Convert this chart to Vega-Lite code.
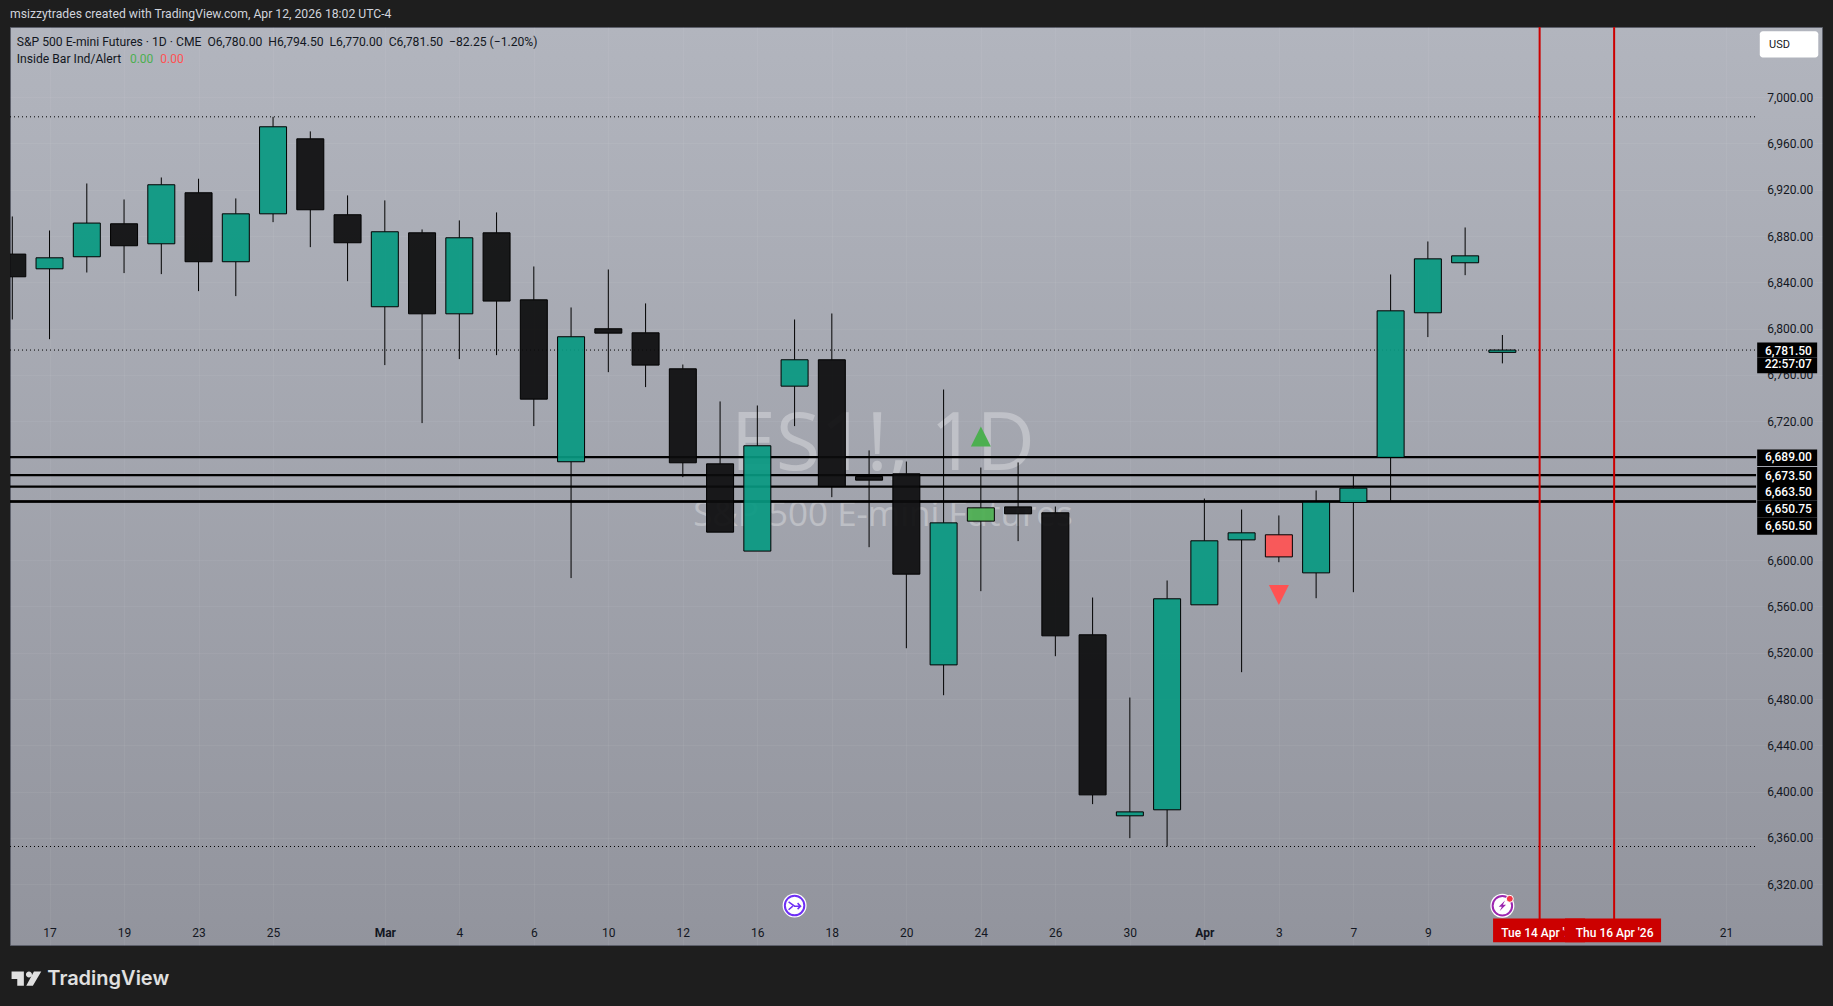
{
  "$schema": "https://vega.github.io/schema/vega-lite/v6.json",
  "width": 1812,
  "height": 918,
  "autosize": {"type": "none"},
  "padding": {"left": 10, "top": 27, "right": 11, "bottom": 61},
  "background": "#1e1e1e",
  "title": {
    "text": "msizzytrades created with TradingView.com, Apr 12, 2026 18:02 UTC-4",
    "anchor": "start",
    "frame": "group",
    "color": "#d1d4dc",
    "font": "Roboto",
    "fontSize": 12.2,
    "fontWeight": "normal",
    "offset": 6
  },
  "view": {
    "stroke": "#5d606b",
    "fill": {
      "gradient": "linear",
      "x1": 0, "y1": 0, "x2": 0, "y2": 1,
      "stops": [
        {"offset": 0, "color": "#b2b5be"},
        {"offset": 1, "color": "#92949d"}
      ]
    }
  },
  "config": {
    "font": "Roboto",
    "axis": {"title": null},
    "text": {"font": "Roboto", "fontSize": 12}
  },
  "datasets": {
    "candles": [
      {"bar": 0, "date": "2026-02-13", "tone": "down", "high": 6896.9, "top": 6864.4, "bottom": 6844.8, "low": 6807.9},
      {"bar": 1, "date": "2026-02-17", "tone": "up", "high": 6884.8, "top": 6861.2, "bottom": 6851.7, "low": 6790.9},
      {"bar": 2, "date": "2026-02-18", "tone": "up", "high": 6925.4, "top": 6891.2, "bottom": 6862.1, "low": 6848.5},
      {"bar": 3, "date": "2026-02-19", "tone": "down", "high": 6911.6, "top": 6890.6, "bottom": 6871.6, "low": 6848.0},
      {"bar": 4, "date": "2026-02-20", "tone": "up", "high": 6930.6, "top": 6924.3, "bottom": 6873.3, "low": 6847.1},
      {"bar": 5, "date": "2026-02-23", "tone": "down", "high": 6929.5, "top": 6917.4, "bottom": 6857.8, "low": 6832.4},
      {"bar": 6, "date": "2026-02-24", "tone": "up", "high": 6912.5, "top": 6899.2, "bottom": 6857.8, "low": 6828.1},
      {"bar": 7, "date": "2026-02-25", "tone": "up", "high": 6983.0, "top": 6974.4, "bottom": 6899.2, "low": 6892.0},
      {"bar": 8, "date": "2026-02-26", "tone": "down", "high": 6970.4, "top": 6964.0, "bottom": 6902.7, "low": 6870.4},
      {"bar": 9, "date": "2026-02-27", "tone": "down", "high": 6915.1, "top": 6898.4, "bottom": 6874.2, "low": 6841.0},
      {"bar": 10, "date": "2026-03-02", "tone": "up", "high": 6910.8, "top": 6883.7, "bottom": 6818.9, "low": 6768.5},
      {"bar": 11, "date": "2026-03-03", "tone": "down", "high": 6885.7, "top": 6882.8, "bottom": 6812.8, "low": 6718.4},
      {"bar": 12, "date": "2026-03-04", "tone": "up", "high": 6893.5, "top": 6878.5, "bottom": 6812.8, "low": 6773.7},
      {"bar": 13, "date": "2026-03-05", "tone": "down", "high": 6900.4, "top": 6882.8, "bottom": 6823.8, "low": 6777.1},
      {"bar": 14, "date": "2026-03-06", "tone": "down", "high": 6853.7, "top": 6824.9, "bottom": 6739.1, "low": 6715.8},
      {"bar": 15, "date": "2026-03-09", "tone": "up", "high": 6818.3, "top": 6793.0, "bottom": 6685.0, "low": 6584.5},
      {"bar": 16, "date": "2026-03-10", "tone": "down", "high": 6851.1, "top": 6799.9, "bottom": 6796.1, "low": 6762.4},
      {"bar": 17, "date": "2026-03-11", "tone": "down", "high": 6821.8, "top": 6796.4, "bottom": 6768.5, "low": 6749.5},
      {"bar": 18, "date": "2026-03-12", "tone": "down", "high": 6769.0, "top": 6765.3, "bottom": 6684.1, "low": 6671.7},
      {"bar": 19, "date": "2026-03-13", "tone": "down", "high": 6737.1, "top": 6683.2, "bottom": 6624.2, "low": 6624.2},
      {"bar": 20, "date": "2026-03-16", "tone": "up", "high": 6733.6, "top": 6698.8, "bottom": 6607.8, "low": 6607.8},
      {"bar": 21, "date": "2026-03-17", "tone": "up", "high": 6807.9, "top": 6773.1, "bottom": 6750.3, "low": 6715.8},
      {"bar": 22, "date": "2026-03-18", "tone": "down", "high": 6813.1, "top": 6773.1, "bottom": 6663.6, "low": 6654.4},
      {"bar": 23, "date": "2026-03-19", "tone": "down", "high": 6694.8, "top": 6672.3, "bottom": 6669.1, "low": 6611.2},
      {"bar": 24, "date": "2026-03-20", "tone": "down", "high": 6685.2, "top": 6674.6, "bottom": 6587.9, "low": 6523.9},
      {"bar": 25, "date": "2026-03-23", "tone": "up", "high": 6747.4, "top": 6632.2, "bottom": 6509.5, "low": 6483.3},
      {"bar": 26, "date": "2026-03-24", "tone": "insideUp", "high": 6680.0, "top": 6645.2, "bottom": 6633.7, "low": 6573.2},
      {"bar": 27, "date": "2026-03-25", "tone": "down", "high": 6684.4, "top": 6646.0, "bottom": 6640.0, "low": 6616.4},
      {"bar": 28, "date": "2026-03-26", "tone": "down", "high": 6646.3, "top": 6640.9, "bottom": 6534.6, "low": 6517.0},
      {"bar": 29, "date": "2026-03-27", "tone": "down", "high": 6567.7, "top": 6535.5, "bottom": 6397.2, "low": 6389.2},
      {"bar": 30, "date": "2026-03-30", "tone": "up", "high": 6481.3, "top": 6382.5, "bottom": 6379.1, "low": 6359.8},
      {"bar": 31, "date": "2026-03-31", "tone": "up", "high": 6582.4, "top": 6566.6, "bottom": 6384.3, "low": 6352.6},
      {"bar": 32, "date": "2026-04-01", "tone": "up", "high": 6653.2, "top": 6616.7, "bottom": 6561.4, "low": 6561.4},
      {"bar": 33, "date": "2026-04-02", "tone": "up", "high": 6643.7, "top": 6623.6, "bottom": 6617.5, "low": 6503.2},
      {"bar": 34, "date": "2026-04-03", "tone": "insideDown", "high": 6638.6, "top": 6621.9, "bottom": 6602.8, "low": 6598.2},
      {"bar": 35, "date": "2026-04-06", "tone": "up", "high": 6660.2, "top": 6650.1, "bottom": 6589.0, "low": 6567.1},
      {"bar": 36, "date": "2026-04-07", "tone": "up", "high": 6672.6, "top": 6662.2, "bottom": 6649.8, "low": 6572.3},
      {"bar": 37, "date": "2026-04-08", "tone": "up", "high": 6846.8, "top": 6815.4, "bottom": 6688.7, "low": 6651.5},
      {"bar": 38, "date": "2026-04-09", "tone": "up", "high": 6875.3, "top": 6860.3, "bottom": 6813.7, "low": 6792.7},
      {"bar": 39, "date": "2026-04-10", "tone": "up", "high": 6887.4, "top": 6862.9, "bottom": 6856.9, "low": 6846.2},
      {"bar": 40, "date": "2026-04-13", "tone": "up", "high": 6794.5, "top": 6781.5, "bottom": 6779.5, "low": 6770.0}
    ],
    "tags": [
      {"label": "6,689.00", "from": 6695.6, "to": 6681.4, "price": 6689.0},
      {"label": "6,673.50", "from": 6680.5, "to": 6665.8, "price": 6673.1},
      {"label": "6,663.50", "from": 6665.8, "to": 6651.5, "price": 6658.7},
      {"label": "6,650.75", "from": 6651.5, "to": 6636.9, "price": 6643.8},
      {"label": "6,650.50", "from": 6636.9, "to": 6621.9, "price": 6629.3},
      {"label": "6,781.50", "from": 6788.1, "to": 6775.0, "price": 6781.1},
      {"label": "22:57:07", "from": 6775.0, "to": 6761.5, "price": 6769.3}
    ]
  },
  "layer": [
    {
      "data": {"values": [
        {"label": "ES1!, 1D", "bar": 23.37, "price": 6699}
      ]},
      "mark": {"type": "text", "font": "Open Sans", "fontSize": 81, "baseline": "middle", "align": "center", "color": "#ffffff", "opacity": 0.3},
      "encoding": {
        "x": {
          "field": "bar",
          "type": "quantitative",
          "scale": {"domain": [-0.0616, 48.58], "nice": false, "zero": false, "padding": 0},
          "axis": {
            "orient": "bottom",
            "offset": -13,
            "title": null,
            "domain": false,
            "ticks": false,
            "grid": true,
            "gridColor": "#ffffff",
            "gridOpacity": 0.05,
            "labelColor": "#131722",
            "labelFontSize": 12,
            "labelFont": "Roboto",
            "labelPadding": 0,
            "labelBaseline": "middle",
            "labelOverlap": false,
            "labelFlush": false,
            "labelAngle": 0,
            "values": [1, 3, 5, 7, 10, 12, 14, 16, 18, 20, 22, 24, 26, 28, 30, 32, 34, 36, 38, 46],
            "labelExpr": "{'1':'17','3':'19','5':'23','7':'25','10':'Mar','12':'4','14':'6','16':'10','18':'12','20':'16','22':'18','24':'20','26':'24','28':'26','30':'30','32':'Apr','34':'3','36':'7','38':'9','46':'21'}[datum.value]",
            "labelFontWeight": {"expr": "datum.value == 10 || datum.value == 32 ? 'bold' : 'normal'"}
          }
        },
        "y": {
          "field": "price",
          "type": "quantitative",
          "scale": {"domain": [6267.5, 7060.6], "nice": false, "zero": false},
          "axis": {
            "orient": "right",
            "offset": -9.3,
            "title": null,
            "domain": false,
            "ticks": false,
            "grid": true,
            "gridColor": "#ffffff",
            "gridOpacity": 0.05,
            "labelColor": "#131722",
            "labelFontSize": 12,
            "labelFont": "Roboto",
            "labelPadding": 0,
            "labelAlign": "right",
            "labelOverlap": false,
            "labelFlush": false,
            "format": ",.2f",
            "values": [6320, 6360, 6400, 6440, 6480, 6520, 6560, 6600, 6720, 6760, 6800, 6840, 6880, 6920, 6960, 7000]
          }
        },
        "text": {"field": "label"}
      }
    },
    {
      "data": {"values": [
        {"label": "S&P 500 E-mini Futures", "bar": 23.37, "price": 6638.6}
      ]},
      "mark": {"type": "text", "font": "Open Sans", "fontSize": 35, "baseline": "middle", "align": "center", "color": "#ffffff", "opacity": 0.3},
      "encoding": {
        "x": {"field": "bar", "type": "quantitative"},
        "y": {"field": "price", "type": "quantitative"},
        "text": {"field": "label"}
      }
    },
    {
      "data": {"values": [
        {"price": 6983},
        {"price": 6781.5},
        {"price": 6352.6}
      ]},
      "mark": {"type": "rule", "color": "#000000", "strokeWidth": 1, "strokeDash": [1, 3]},
      "encoding": {
        "x": {"datum": -0.0616, "type": "quantitative"},
        "x2": {"datum": 46.81},
        "y": {"field": "price", "type": "quantitative"}
      }
    },
    {
      "data": {"values": [
        {"price": 6689},
        {"price": 6673.5},
        {"price": 6663.5},
        {"price": 6650.75},
        {"price": 6650.5}
      ]},
      "mark": {"type": "rule", "color": "#000000", "strokeWidth": 2.2},
      "encoding": {
        "x": {"datum": -0.0616, "type": "quantitative"},
        "x2": {"datum": 46.81},
        "y": {"field": "price", "type": "quantitative"}
      }
    },
    {
      "data": {"name": "candles"},
      "mark": {"type": "rule", "color": "#000000", "strokeWidth": 1},
      "encoding": {
        "x": {"field": "bar", "type": "quantitative"},
        "y": {"field": "high", "type": "quantitative"},
        "y2": {"field": "top"}
      }
    },
    {
      "data": {"name": "candles"},
      "mark": {"type": "rule", "color": "#000000", "strokeWidth": 1},
      "encoding": {
        "x": {"field": "bar", "type": "quantitative"},
        "y": {"field": "bottom", "type": "quantitative"},
        "y2": {"field": "low"}
      }
    },
    {
      "data": {"name": "candles"},
      "mark": {"type": "bar", "size": 27, "stroke": "#000000", "strokeWidth": 1, "fillOpacity": 0.92, "clip": true},
      "encoding": {
        "x": {"field": "bar", "type": "quantitative"},
        "y": {"field": "top", "type": "quantitative"},
        "y2": {"field": "bottom"},
        "color": {
          "field": "tone",
          "type": "nominal",
          "legend": null,
          "scale": {
            "domain": ["up", "down", "insideUp", "insideDown"],
            "range": ["#089981", "#0c0c0d", "#4caf50", "#ff5252"]
          }
        }
      }
    },
    {
      "data": {"values": [{"bar": 26, "price": 6706.8}]},
      "mark": {"type": "point", "shape": "M0 -1L1 1L-1 1Z", "size": 400, "filled": true, "color": "#4caf50", "opacity": 1},
      "encoding": {
        "x": {"field": "bar", "type": "quantitative"},
        "y": {"field": "price", "type": "quantitative"}
      }
    },
    {
      "data": {"values": [{"bar": 34, "price": 6569.9}]},
      "mark": {"type": "point", "shape": "M0 1L1 -1L-1 -1Z", "size": 400, "filled": true, "color": "#ff5252", "opacity": 1},
      "encoding": {
        "x": {"field": "bar", "type": "quantitative"},
        "y": {"field": "price", "type": "quantitative"}
      }
    },
    {
      "data": {"values": [{"bar": 41}, {"bar": 43}]},
      "mark": {"type": "rule", "color": "#cc0000", "strokeWidth": 2},
      "encoding": {
        "x": {"field": "bar", "type": "quantitative"},
        "y": {"datum": 7060.6, "type": "quantitative"},
        "y2": {"datum": 6285}
      }
    },
    {
      "data": {"name": "tags"},
      "mark": {"type": "rect", "color": "#000000"},
      "encoding": {
        "x": {"datum": 46.84, "type": "quantitative"},
        "x2": {"datum": 48.45},
        "y": {"field": "from", "type": "quantitative"},
        "y2": {"field": "to"}
      }
    },
    {
      "data": {"name": "tags"},
      "mark": {"type": "text", "color": "#ffffff", "align": "right", "baseline": "middle", "fontSize": 12, "fontWeight": 500},
      "encoding": {
        "x": {"datum": 48.31, "type": "quantitative"},
        "y": {"field": "price", "type": "quantitative"},
        "text": {"field": "label"}
      }
    },
    {
      "data": {"values": [{"from": 46.91, "to": 48.48, "price": 7057, "price2": 7034.3}]},
      "mark": {"type": "rect", "color": "#ffffff", "cornerRadius": 3},
      "encoding": {
        "x": {"field": "from", "type": "quantitative"},
        "x2": {"field": "to"},
        "y": {"field": "price", "type": "quantitative"},
        "y2": {"field": "price2"}
      }
    },
    {
      "data": {"values": [{"label": "USD", "bar": 47.16, "price": 7045.1}]},
      "mark": {"type": "text", "color": "#131722", "align": "left", "baseline": "middle", "fontSize": 11},
      "encoding": {
        "x": {"field": "bar", "type": "quantitative"},
        "y": {"field": "price", "type": "quantitative"},
        "text": {"field": "label"}
      }
    },
    {
      "data": {"values": [{"from": 39.75, "to": 42.22}]},
      "mark": {"type": "rect", "color": "#cc0000"},
      "encoding": {
        "x": {"field": "from", "type": "quantitative"},
        "x2": {"field": "to"},
        "y": {"datum": 6290.4, "type": "quantitative"},
        "y2": {"datum": 6269.9}
      }
    },
    {
      "data": {"values": [{"label": "Tue 14 Apr '26", "bar": 39.97, "price": 6278}]},
      "mark": {"type": "text", "color": "#ffffff", "align": "left", "baseline": "middle", "fontSize": 12, "fontWeight": 500},
      "encoding": {
        "x": {"field": "bar", "type": "quantitative"},
        "y": {"field": "price", "type": "quantitative"},
        "text": {"field": "label"}
      }
    },
    {
      "data": {"values": [{"from": 41.68, "to": 44.26}]},
      "mark": {"type": "rect", "color": "#cc0000"},
      "encoding": {
        "x": {"field": "from", "type": "quantitative"},
        "x2": {"field": "to"},
        "y": {"datum": 6290.4, "type": "quantitative"},
        "y2": {"datum": 6269.9}
      }
    },
    {
      "data": {"values": [{"label": "Thu 16 Apr '26", "bar": 41.97, "price": 6278}]},
      "mark": {"type": "text", "color": "#ffffff", "align": "left", "baseline": "middle", "fontSize": 12, "fontWeight": 500},
      "encoding": {
        "x": {"field": "bar", "type": "quantitative"},
        "y": {"field": "price", "type": "quantitative"},
        "text": {"field": "label"}
      }
    },
    {
      "data": {"values": [{"bar": 21, "price": 6301.6}, {"bar": 40, "price": 6301.4}]},
      "mark": {"type": "point", "shape": "circle", "size": 576, "filled": true, "color": "#ffffff", "opacity": 1},
      "encoding": {
        "x": {"field": "bar", "type": "quantitative"},
        "y": {"field": "price", "type": "quantitative"}
      }
    },
    {
      "data": {"values": [{"bar": 21, "price": 6301.6}]},
      "mark": {"type": "point", "shape": "circle", "size": 380, "filled": false, "stroke": "#6e2ff5", "strokeWidth": 2, "opacity": 1},
      "encoding": {
        "x": {"field": "bar", "type": "quantitative"},
        "y": {"field": "price", "type": "quantitative"}
      }
    },
    {
      "data": {"values": [{"bar": 21, "price": 6301.6}]},
      "mark": {"type": "point", "shape": "M-1 -0.6L0 0.1L1 0.1M0.5 -0.4L1 0.1L0.5 0.6M-1 0.7L-0.3 0.1", "size": 144, "filled": false, "stroke": "#6e2ff5", "strokeWidth": 1.5, "opacity": 1},
      "encoding": {
        "x": {"field": "bar", "type": "quantitative"},
        "y": {"field": "price", "type": "quantitative"}
      }
    },
    {
      "data": {"values": [{"bar": 40, "price": 6301.4}]},
      "mark": {"type": "point", "shape": "circle", "size": 380, "filled": false, "stroke": "#9c27b0", "strokeWidth": 2, "opacity": 1},
      "encoding": {
        "x": {"field": "bar", "type": "quantitative"},
        "y": {"field": "price", "type": "quantitative"}
      }
    },
    {
      "data": {"values": [{"bar": 40, "price": 6301.4}]},
      "mark": {"type": "point", "shape": "M0.5 -1L-0.7 0.2L-0.1 0.2L-0.5 1L0.7 -0.2L0.1 -0.2Z", "size": 110, "filled": true, "color": "#9c27b0", "opacity": 1},
      "encoding": {
        "x": {"field": "bar", "type": "quantitative"},
        "y": {"field": "price", "type": "quantitative"}
      }
    },
    {
      "data": {"values": [{"bar": 40.2, "price": 6307.4}]},
      "mark": {"type": "point", "shape": "circle", "size": 49, "filled": true, "color": "#f23645", "stroke": "#ffffff", "strokeWidth": 1, "opacity": 1},
      "encoding": {
        "x": {"field": "bar", "type": "quantitative"},
        "y": {"field": "price", "type": "quantitative"}
      }
    },
    {
      "data": {"values": [
        {"label": "S&P 500 E-mini Futures · 1D · CME\u00a0\u00a0O6,780.00\u00a0\u00a0H6,794.50\u00a0\u00a0L6,770.00\u00a0\u00a0C6,781.50\u00a0\u00a0−82.25 (−1.20%)", "bar": 0.12, "price": 7047.5},
        {"label": "Inside Bar Ind/Alert", "bar": 0.12, "price": 7032.8}
      ]},
      "mark": {"type": "text", "color": "#131722", "align": "left", "baseline": "middle", "fontSize": 12.15},
      "encoding": {
        "x": {"field": "bar", "type": "quantitative"},
        "y": {"field": "price", "type": "quantitative"},
        "text": {"field": "label"}
      }
    },
    {
      "data": {"values": [{"label": "0.00", "bar": 3.157, "price": 7032.8}]},
      "mark": {"type": "text", "color": "#4caf50", "align": "left", "baseline": "middle", "fontSize": 12},
      "encoding": {
        "x": {"field": "bar", "type": "quantitative"},
        "y": {"field": "price", "type": "quantitative"},
        "text": {"field": "label"}
      }
    },
    {
      "data": {"values": [{"label": "0.00", "bar": 3.973, "price": 7032.8}]},
      "mark": {"type": "text", "color": "#ff5252", "align": "left", "baseline": "middle", "fontSize": 12},
      "encoding": {
        "x": {"field": "bar", "type": "quantitative"},
        "y": {"field": "price", "type": "quantitative"},
        "text": {"field": "label"}
      }
    },
    {
      "data": {"values": [{"bar": 0.375, "price": 6238.3}]},
      "mark": {"type": "point", "shape": "M-0.98 -0.49L-0.16 -0.49L-0.16 0.47L-0.6 0.47L-0.6 0.02L-0.98 0.02ZM0.38 -0.29A0.2 0.2 0 1 1 -0.02 -0.29A0.2 0.2 0 1 1 0.38 -0.29ZM0.51 -0.49L1 -0.49L0.44 0.47L0 0.47Z", "size": 900, "filled": true, "color": "#e0e0e0", "opacity": 1},
      "encoding": {
        "x": {"field": "bar", "type": "quantitative"},
        "y": {"field": "price", "type": "quantitative"}
      }
    },
    {
      "data": {"values": [{"label": "TradingView", "bar": 0.94, "price": 6238.3}]},
      "mark": {"type": "text", "color": "#e0e0e0", "align": "left", "baseline": "middle", "fontSize": 20, "fontWeight": 600, "font": "Inter"},
      "encoding": {
        "x": {"field": "bar", "type": "quantitative"},
        "y": {"field": "price", "type": "quantitative"},
        "text": {"field": "label"}
      }
    }
  ]
}
